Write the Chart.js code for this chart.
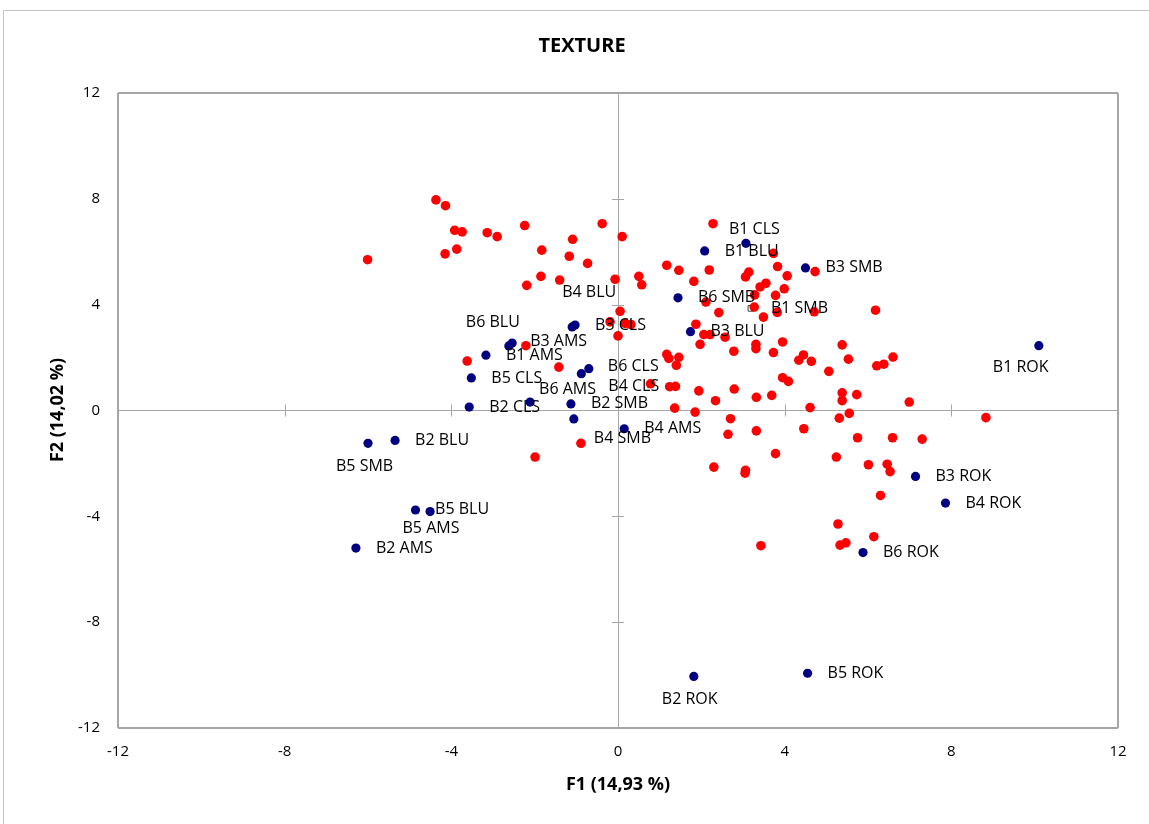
<!DOCTYPE html>
<html>
<head>
<meta charset="utf-8">
<script src="https://cdn.jsdelivr.net/npm/chart.js@4.4.1/dist/chart.umd.min.js"></script>
<style>
  html, body { margin: 0; padding: 0; background: #fff; overflow: hidden; }
  #cadre { position: absolute; left: 3px; top: 10px; width: 1200px; height: 900px; border: 1px solid #c4c4c4; }
  #grafico { position: absolute; left: 0; top: 0; }
</style>
</head>
<body>
<div id="cadre"></div>
<canvas id="grafico" width="1149" height="824"></canvas>
<script>
// Valeurs (F1, F2)
const nomsSites = ['B1 CLS', 'B1 BLU', 'B3 SMB', 'B6 SMB', 'B1 SMB', 'B3 BLU', 'B4 BLU', 'B3 CLS',
    'B6 BLU', 'B3 AMS', 'B1 AMS', 'B5 CLS', 'B6 CLS', 'B4 CLS', 'B6 AMS', 'B2 CLS', 'B2 SMB',
    'B4 SMB', 'B4 AMS', 'B5 SMB', 'B2 BLU', 'B5 BLU', 'B5 AMS', 'B2 AMS', 'B1 ROK', 'B3 ROK',
    'B4 ROK', 'B6 ROK', 'B2 ROK', 'B5 ROK'];
const sitesF1 = [3.07, 2.08, 4.50, 1.44, 3.19, 1.74, -1.10, -1.03, -2.62, -2.54, -3.17, -3.52, -0.70,
    -0.88, -2.11, -3.57, -1.13, -1.06, 0.15, -6.00, -5.35, -4.51, -4.86, -6.29, 10.10, 7.14, 7.86,
    5.88, 1.82, 4.55];
const sitesF2 = [6.32, 6.03, 5.39, 4.26, 3.86, 2.98, 3.16, 3.23, 2.44, 2.55, 2.09, 1.23, 1.58, 1.39,
    0.32, 0.13, 0.25, -0.32, -0.69, -1.24, -1.13, -3.82, -3.76, -5.20, 2.45, -2.49, -3.50, -5.37,
    -10.05, -9.93];

const individusF1 = [-4.37, -4.14, -3.92, -3.74, -3.14, -2.90, -2.24, -0.38, 0.10, -1.09, -3.87, -4.15,
    -6.01, -1.83, -1.17, -0.73, -1.85, -2.19, -1.40, -0.07, 0.05, -0.19, 0.17, 0.31, 0.00, -2.21, -3.62,
    -1.42, 2.28, 3.73, 1.17, 1.46, 2.19, 3.14, 3.06, 3.83, 4.06, 4.73, 0.50, 0.57, 1.82, 3.55, 3.41,
    3.99, 3.78, 3.28, 2.11, 2.42, 3.27, 3.49, 3.82, 4.71, 6.18, 1.87, 2.06, 2.21, 2.57, 1.97, 2.78,
    3.31, 3.31, 3.95, 3.73, 5.38, 1.17, 1.22, 1.46, 1.40, 4.45, 4.34, 4.64, 5.53, 6.60, 6.21, 6.38,
    5.06, 3.95, 4.09, 0.78, 1.24, 1.38, 1.94, 2.79, 3.32, 3.69, 2.34, 1.36, 1.85, 5.38, 5.38, 5.73,
    4.61, 5.55, 5.31, 2.70, 2.64, 3.32, 4.46, 5.75, 6.59, 3.78, 5.24, 6.01, 6.46, 6.53, 2.30, 3.06,
    3.05, 6.30, 5.28, 6.14, 5.33, 5.47, 3.43, 6.99, 8.83, 7.30, -1.99, -0.89];
const individusF2 = [7.96, 7.74, 6.81, 6.75, 6.72, 6.57, 6.99, 7.06, 6.57, 6.47, 6.10, 5.92, 5.70,
    6.06, 5.83, 5.56, 5.07, 4.73, 4.93, 4.96, 3.75, 3.35, 3.29, 3.25, 2.82, 2.45, 1.87, 1.64, 7.06,
    5.94, 5.49, 5.30, 5.31, 5.23, 5.05, 5.44, 5.09, 5.25, 5.07, 4.75, 4.88, 4.81, 4.67, 4.60, 4.35,
    4.37, 4.10, 3.70, 3.91, 3.53, 3.71, 3.73, 3.79, 3.26, 2.87, 2.87, 2.77, 2.50, 2.24, 2.50, 2.34,
    2.59, 2.19, 2.48, 2.12, 1.97, 2.01, 1.71, 2.10, 1.90, 1.86, 1.94, 2.02, 1.69, 1.75, 1.48, 1.24,
    1.10, 1.01, 0.90, 0.91, 0.74, 0.81, 0.50, 0.57, 0.37, 0.09, -0.06, 0.67, 0.37, 0.60, 0.11, -0.11,
    -0.29, -0.31, -0.90, -0.77, -0.69, -1.03, -1.03, -1.63, -1.76, -2.05, -2.03, -2.31, -2.14, -2.26,
    -2.37, -3.21, -4.29, -4.77, -5.09, -5.00, -5.11, 0.32, -0.27, -1.08, -1.76, -1.24];

const ticksAxes = [-12, -8, -4, 0, 4, 8, 12];

// Placement des étiquettes (décalage en px depuis le point), par défaut à droite
const decalageDefaut = { dx: 20, dy: 0 };
const decalages = {
    'B1 CLS': { dx: -17, dy: -14 },
    'B4 BLU': { dx: -10, dy: -34 },
    'B6 BLU': { dx: -43, dy: -24 },
    'B3 AMS': { dx: 18, dy: -2 },
    'B6 CLS': { dx: 19, dy: -2 },
    'B4 CLS': { dx: 27, dy: 13 },
    'B6 AMS': { dx: 9, dy: -13 },
    'B4 SMB': { dx: 20, dy: 19 },
    'B5 SMB': { dx: -32, dy: 23 },
    'B5 BLU': { dx: 5, dy: -2 },
    'B5 AMS': { dx: -13, dy: 18 },
    'B1 ROK': { dx: -46, dy: 22 },
    'B2 ROK': { dx: -32, dy: 23 }
};

const gris = '#a6a6a6';
const police = "'Open Sans', 'Noto Sans', sans-serif";

function desenharExtras(chart) {
    const ctx = chart.ctx;
    const sx = chart.scales.x, sy = chart.scales.y;
    const x0 = sx.getPixelForValue(0), y0 = sy.getPixelForValue(0);
    ctx.save();
    // petites graduations croisées sur les axes du zéro
    ctx.strokeStyle = gris;
    ctx.lineWidth = 1;
    ctx.beginPath();
    ticksAxes.forEach(v => {
        if (v === 0 || Math.abs(v) === 12) return;
        const px = Math.round(sx.getPixelForValue(v)) + 0.5;
        ctx.moveTo(px, y0 - 6); ctx.lineTo(px, y0 + 6);
        const py = Math.round(sy.getPixelForValue(v)) + 0.5;
        ctx.moveTo(x0 - 6, py); ctx.lineTo(x0 + 6, py);
    });
    ctx.stroke();

    // titres
    ctx.fillStyle = '#000';
    ctx.textAlign = 'center';
    ctx.textBaseline = 'middle';
    ctx.font = 'bold 20px ' + police;
    ctx.fillText('TEXTURE', 582, 46);
    ctx.font = 'bold 18px ' + police;
    ctx.fillText('F1 (14,93 %)', 618, 785);
    ctx.save();
    ctx.translate(58, 410);
    ctx.rotate(-Math.PI / 2);
    ctx.fillText('F2 (14,02 %)', 0, 0);
    ctx.restore();

    // étiquettes des sites
    ctx.font = '16px ' + police;
    ctx.textAlign = 'left';
    const meta = chart.getDatasetMeta(1);
    meta.data.forEach((pt, i) => {
        const nome = nomsSites[i];
        const d = decalages[nome] || decalageDefaut;
        ctx.fillText(nome, pt.x + d.dx, pt.y + d.dy);
    });
    ctx.restore();
}

const ctx = document.getElementById('grafico').getContext('2d');
new Chart(ctx, {
    type: 'scatter',
    data: {
        datasets: [{
            label: 'Individus',
            data: individusF1.map((x, i) => ({ x: x, y: individusF2[i] })),
            backgroundColor: '#ff0000',
            borderColor: '#ff0000',
            pointRadius: 4.8,
            borderWidth: 0
        }, {
            label: 'Sites',
            data: sitesF1.map((x, i) => ({ x: x, y: sitesF2[i] })),
            backgroundColor: c => nomsSites[c.dataIndex] === 'B1 SMB' ? 'rgba(0,0,0,0)' : '#000080',
            borderColor: c => nomsSites[c.dataIndex] === 'B1 SMB' ? '#404040' : '#000080',
            borderWidth: c => nomsSites[c.dataIndex] === 'B1 SMB' ? 1 : 0,
            pointStyle: c => nomsSites[c.dataIndex] === 'B1 SMB' ? 'rect' : 'circle',
            pointRadius: c => nomsSites[c.dataIndex] === 'B1 SMB' ? 4 : 4.6
        }]
    },
    options: {
        responsive: false,
        animation: false,
        events: [],
        layout: { padding: { top: 93, right: 31, left: 0, bottom: 0 } },
        plugins: {
            legend: { display: false },
            title: { display: false },
            tooltip: { enabled: false }
        },
        scales: {
            x: {
                type: 'linear',
                min: -12, max: 12,
                afterFit: s => { s.height = 96; },
                afterBuildTicks: s => { s.ticks = ticksAxes.map(v => ({ value: v })); },
                ticks: { padding: 15, color: '#000', font: { family: police, size: 15 } },
                border: { display: false },
                grid: {
                    drawTicks: false,
                    color: c => (c.tick && [0, -12, 12].includes(c.tick.value)) ? gris : 'rgba(0,0,0,0)',
                    lineWidth: c => (c.tick && Math.abs(c.tick.value) === 12) ? 2 : 1
                }
            },
            y: {
                type: 'linear',
                min: -12, max: 12,
                afterFit: s => { s.width = 118; },
                afterBuildTicks: s => { s.ticks = ticksAxes.map(v => ({ value: v })); },
                ticks: { padding: 18, color: '#000', font: { family: police, size: 15 } },
                border: { display: false },
                grid: {
                    drawTicks: false,
                    color: c => (c.tick && [0, -12, 12].includes(c.tick.value)) ? gris : 'rgba(0,0,0,0)',
                    lineWidth: c => (c.tick && Math.abs(c.tick.value) === 12) ? 2 : 1
                }
            }
        }
    },
    plugins: [{ id: 'extras', afterDatasetsDraw: desenharExtras }]
});
</script>
</body>
</html>
